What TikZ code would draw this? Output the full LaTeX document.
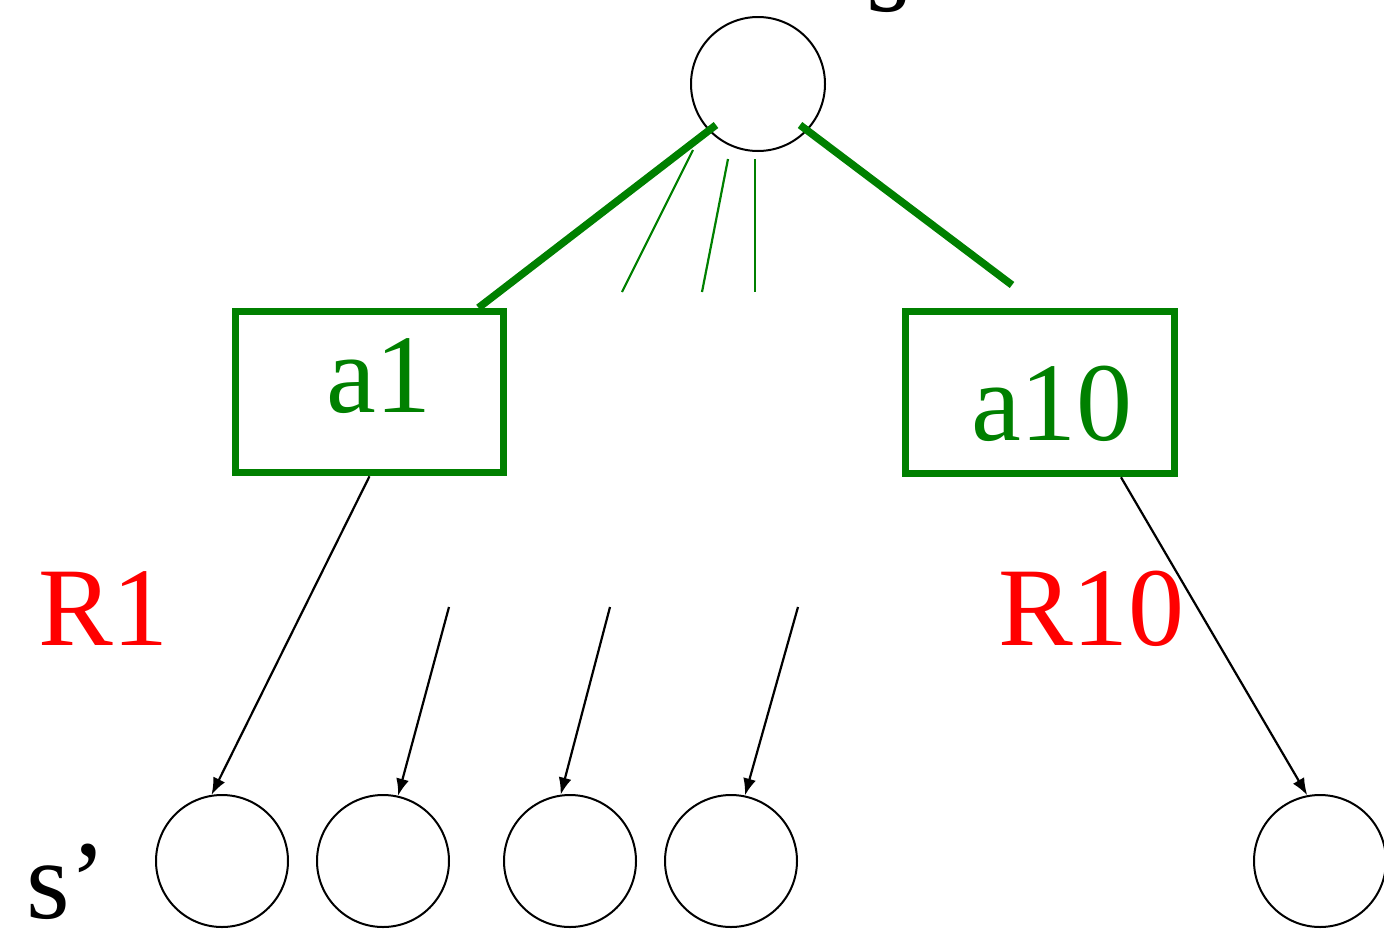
\documentclass[tikz,border=0pt]{standalone}
\usepackage{fontspec}
\setmainfont{Liberation Serif}
\usetikzlibrary{arrows.meta,calc}
\definecolor{pgreen}{RGB}{0,128,0}
\definecolor{pred}{RGB}{255,0,0}
\begin{document}
\begin{tikzpicture}[x=1pt,y=-1pt,
  state/.style={circle,draw=black,line width=2pt,minimum size=132pt,inner sep=0pt},
  actbox/.style={draw=pgreen,line width=7.5pt,minimum width=268pt,minimum height=161pt,inner sep=0pt},
  big/.style={font=\fontsize{112}{120}\selectfont,inner sep=0pt,anchor=base west},
  acttext/.style={big,text=pgreen},
  rtext/.style={big,text=pred},
  thickg/.style={draw=pgreen,line width=7.5pt},
  thing/.style={draw=pgreen,line width=2.2pt},
  arr/.style={draw=black,line width=2.2pt,-{Latex[length=17pt,width=13pt]}}]
\useasboundingbox (0,0) rectangle (1384,929);

% states
\node[state,minimum size=134pt] (s) at (758,84) {};
\node[state] (c1) at (222,861) {};
\node[state] (c2) at (383,861) {};
\node[state] (c3) at (570,861) {};
\node[state] (c4) at (731,861) {};
\node[state] (c5) at (1320,861) {};

% action boxes
\node[actbox] (b1) at (369.5,392) {};
\node[actbox,minimum width=269pt,minimum height=162pt] (b10) at (1040,392.5) {};

% texts
\node[big] (stop) at (866,11) {s};
\node[big] (sp) at (26,918) {s’};
\node[acttext] (ta1) at (326,412) {a1};
\node[acttext] (ta10) at (971,440) {a10};
\node[rtext] (r1) at (38,645) {R1};
\node[rtext] (r10) at (998,645) {R10};

% free ends
\coordinate (g1) at (622,292);
\coordinate (g2) at (702,292);
\coordinate (g3) at (755,292);
\coordinate (g10) at (1012,285);
\coordinate (f2) at (449,607);
\coordinate (f3) at (610,607);
\coordinate (f4) at (798,607);

% green action lines
\draw[thickg] ($(s)+(-42,41)$) -- ($(b1.north)+(109,0)$);
\draw[thickg] ($(s)+(42,41)$) -- (g10);
\draw[thing] ($(s)+(-65,66)$) -- (g1);
\draw[thing] ($(s)+(-30,75)$) -- (g2);
\draw[thing] ($(s)+(-3,75)$) -- (g3);

% outcome arrows
\draw[arr] (b1.south) -- (c1.99);
\draw[arr] (f2) -- (c2.77);
\draw[arr] (f3) -- (c3.98);
\draw[arr] (f4) -- (c4.78);
\draw[arr] ($(b10.south)+(81,0)$) -- (c5.101);
\end{tikzpicture}
\end{document}
